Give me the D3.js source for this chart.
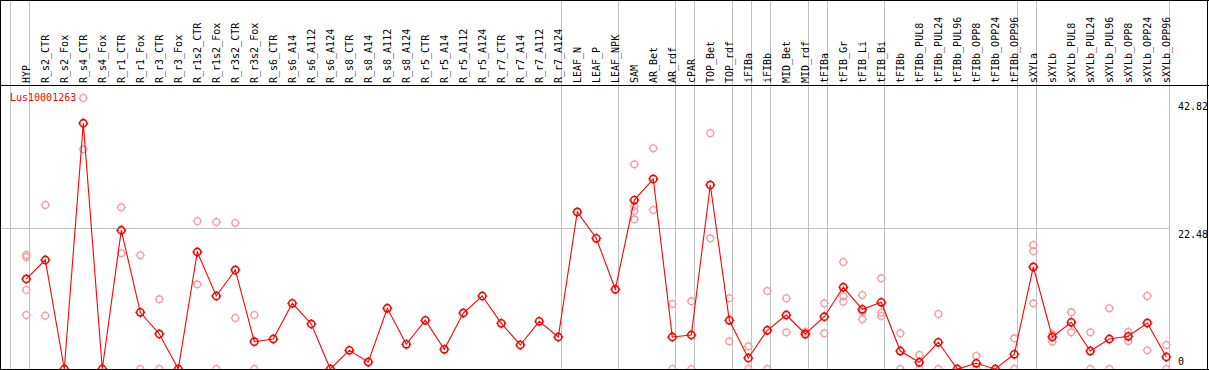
<!DOCTYPE html>
<html>
<head>
<meta charset="utf-8">
<script src="https://cdn.jsdelivr.net/npm/d3@7"></script>
<style>
  html, body { margin: 0; padding: 0; background: #fff; }
  svg { display: block; }
  text { font-family: "DejaVu Sans Mono", monospace; font-size: 10px; }
</style>
</head>
<body>
<svg id="chart" width="1209" height="370"></svg>
<script>
const categories = ["HYP","R_s2_CTR","R_s2_Fox","R_s4_CTR","R_s4_Fox","R_r1_CTR","R_r1_Fox","R_r3_CTR","R_r3_Fox",
  "R_r1s2_CTR","R_r1s2_Fox","R_r3s2_CTR","R_r3s2_Fox","R_s6_CTR","R_s6_A14","R_s6_A112","R_s6_A124",
  "R_s8_CTR","R_s8_A14","R_s8_A112","R_s8_A124","R_r5_CTR","R_r5_A14","R_r5_A112","R_r5_A124",
  "R_r7_CTR","R_r7_A14","R_r7_A112","R_r7_A124","LEAF_N","LEAF_P","LEAF_NPK","SAM","AR_Bet","AR_rdf",
  "cPAR","TOP_Bet","TOP_rdf","iFIBa","iFIBb","MID_Bet","MID_rdf","tFIBa","tFIB_Gr","tFIB_Li","tFIB_Bi",
  "tFIBb","tFIBb_PUL8","tFIBb_PUL24","tFIBb_PUL96","tFIBb_OPP8","tFIBb_OPP24","tFIBb_OPP96",
  "sXYLa","sXYLb","sXYLb_PUL8","sXYLb_PUL24","sXYLb_PUL96","sXYLb_OPP8","sXYLb_OPP24","sXYLb_OPP96"];

const meanValues = [14.32,17.34,0,39.09,0,22.07,9.02,5.57,0,
  18.61,11.61,15.75,4.34,4.77,10.45,7.16,0,
  2.97,1.11,9.66,3.93,7.75,3.13,8.91,11.61,
  7.27,3.82,7.59,5.09,24.98,20.79,12.68,26.87,30.23,5.09,
  5.41,29.27,7.75,1.75,6.16,8.59,5.57,8.32,13.0,9.5,10.61,
  2.86,1.07,4.25,0,0.91,0,2.34,
  16.23,5.09,7.43,2.86,4.77,5.2,7.32,1.91];

const replicateValues = [
  [18.14,17.82,12.57,8.59],[26.09,8.48],[],[43.11,34.95],[],[25.72,18.41],[18.09,0],[11.09,0],[],
  [23.5,13.47],[23.38,0],[23.23,8.11],[8.59,0],[],[],[],[],
  [],[],[],[],[],[],[],[],
  [],[],[],[],[],[],[],[32.56,25.93,25.13,23.81],[35.11,25.29],[10.34,0],
  [10.77,0],[37.5,20.79],[11.25,4.41],[3.61,0],[12.41,0],[11.25,5.84],[5.93,5.41],[10.45,5.68],[17.02,11.57,10.71],[11.77,9.12,7.91],[14.43,8.96,8.43],
  [5.68,0],[2.23,0],[8.75,0],[],[2.07,0],[],[4.88,0],
  [19.73,18.72,10.45],[5.52,4.34],[9.02,5.84],[5.84,0],[9.66,0],[5.93,4.45],[11.61,2.97],[3.82,0]];

const axisTicks = [0, 22.48, 42.82];
const gridTicks = [22.48];
const separatorAfter = ["HYP","R_r7_A124","LEAF_NPK","AR_rdf","cPAR","TOP_rdf","iFIBa","iFIBb",
  "MID_rdf","tFIBa","tFIB_Bi","tFIBb_OPP96","sXYLa","sXYLb_OPP96"];
const geneName = "Lus10001263";

const svg = d3.select("#chart");
const W = 1209, H = 370;
const headerBottom = 85, plotBottom = 369, rightBorder = 1207;

const x = d3.scaleBand().domain(categories).range([11, 1170]).padding(0);
const px = c => x(c) + x.bandwidth() * 0.805;
const y = d3.scaleLinear().domain([0, 42.82]).range([369, 99.8]);

const grey = "#c0c0c0";

// horizontal grid
svg.selectAll("line.hgrid").data(gridTicks).enter().append("line")
  .attr("x1", 0).attr("x2", 1170)
  .attr("y1", d => Math.round(y(d)) + 0.5).attr("y2", d => Math.round(y(d)) + 0.5)
  .attr("stroke", grey).attr("stroke-width", 1);

// vertical separators
const sepX = [x(categories[0])].concat(separatorAfter.map(c => x(c) + x.bandwidth()));
svg.selectAll("line.vsep").data(sepX).enter().append("line")
  .attr("x1", d => Math.round(d) - 0.5).attr("x2", d => Math.round(d) - 0.5)
  .attr("y1", 0).attr("y2", H)
  .attr("stroke", grey).attr("stroke-width", 1);

// header labels
svg.selectAll("text.cat").data(categories).enter().append("text")
  .attr("transform", d => `translate(${px(d) + 3.5},83) rotate(-90)`)
  .attr("text-anchor", "start")
  .attr("fill", "#000")
  .text(d => d);

// marker helper
function marker(g, cx, cy, r, color, sw) {
  g.append("circle").attr("cx", cx).attr("cy", cy).attr("r", r)
    .attr("fill", "none").attr("stroke", color).attr("stroke-width", sw);
  const t = [[0,-1],[0,1],[-1,0],[1,0]];
  t.forEach(([dx, dy]) => {
    g.append("line")
      .attr("x1", cx + dx * r).attr("y1", cy + dy * r)
      .attr("x2", cx + dx * (r + 1.5)).attr("y2", cy + dy * (r + 1.5))
      .attr("stroke", color).attr("stroke-width", 1);
  });
}

// replicates
const repG = svg.append("g");
categories.forEach((c, i) => {
  replicateValues[i].forEach(v => marker(repG, px(c), y(v), 3.3, "#f0a0a0", 1.3));
});

// mean line
const line = d3.line().x((d, i) => px(categories[i])).y(d => y(d));
svg.append("path").datum(meanValues)
  .attr("d", line).attr("fill", "none").attr("stroke", "#ff0000").attr("stroke-width", 1.1);

// mean markers
const meanG = svg.append("g");
categories.forEach((c, i) => marker(meanG, px(c), y(meanValues[i]), 3.6, "#ff0000", 1.6));

// gene name
svg.append("text").attr("x", 10).attr("y", 101).attr("fill", "#ff0000").text(geneName);

// right axis labels
svg.selectAll("text.tick").data(axisTicks).enter().append("text")
  .attr("x", 1178).attr("text-anchor", "start")
  .attr("y", d => Math.min(y(d) + 10, 365))
  .attr("fill", "#000")
  .text(d => d === 0 ? "0" : d3.format(".2f")(d));

// borders
svg.append("line").attr("x1", 0).attr("x2", W).attr("y1", 0.5).attr("y2", 0.5).attr("stroke", "#000");
svg.append("line").attr("x1", 0).attr("x2", W).attr("y1", headerBottom + 0.5).attr("y2", headerBottom + 0.5).attr("stroke", "#000");
svg.append("line").attr("x1", 0).attr("x2", W).attr("y1", plotBottom + 0.5).attr("y2", plotBottom + 0.5).attr("stroke", "#000");
svg.append("line").attr("x1", 0.5).attr("x2", 0.5).attr("y1", 0).attr("y2", H).attr("stroke", "#000");
svg.append("line").attr("x1", rightBorder + 0.5).attr("x2", rightBorder + 0.5).attr("y1", 0).attr("y2", H).attr("stroke", "#000");
</script>
</body>
</html>
